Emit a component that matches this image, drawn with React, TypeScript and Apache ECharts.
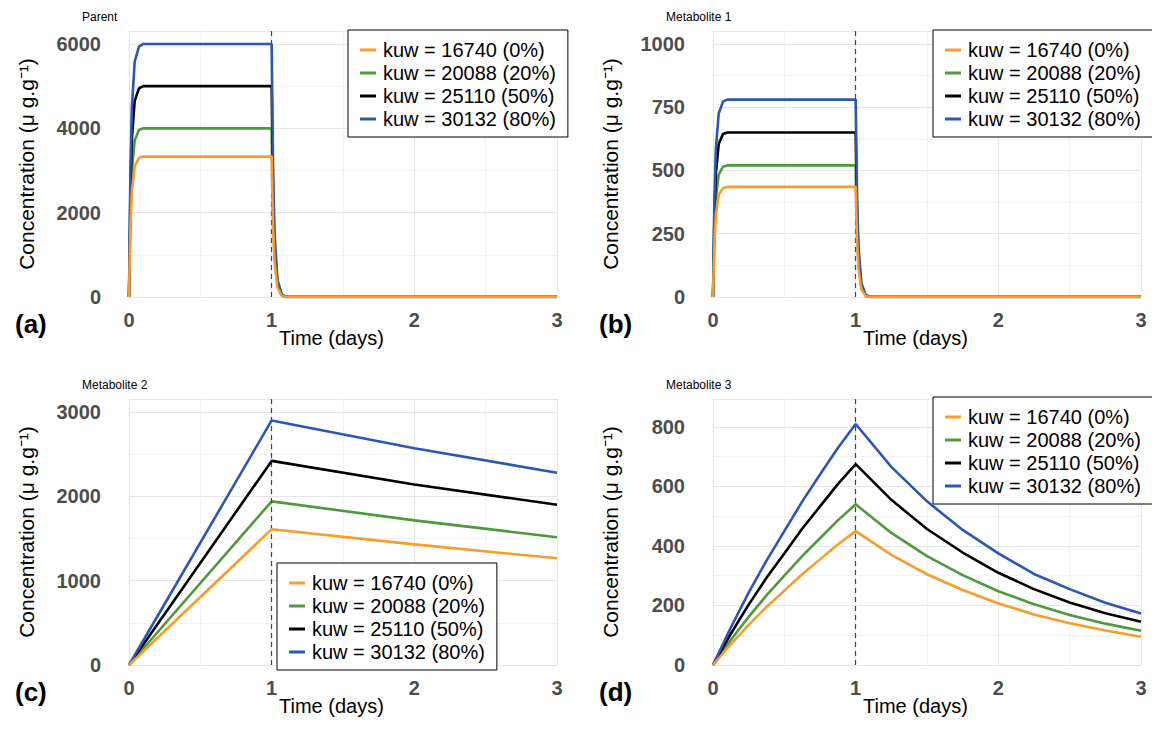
import React, { useEffect, useRef } from 'react';
import * as echarts from 'echarts';

const names = ['kuw = 16740 (0%)', 'kuw = 20088 (20%)', 'kuw = 25110 (50%)', 'kuw = 30132 (80%)'];
const colors = ['#F89C2A', '#4E9A3A', '#000000', '#2A56B8'];

// time points (days)
const tFast = [0, 0.01, 0.02, 0.04, 0.07, 0.1, 1, 1.01, 1.02, 1.04, 1.07, 1.1, 3];
const tMet2 = [0, 1, 2, 3];
const tMet3 = [0, 0.125, 0.25, 0.375, 0.5, 0.625, 0.75, 0.875, 1, 1.25, 1.5, 1.75, 2, 2.25, 2.5, 2.75, 3];

const parent = [
  [0, 1670, 2500, 3100, 3300, 3330, 3330, 1670, 830, 230, 30, 0, 0],
  [0, 2000, 3000, 3720, 3960, 4000, 4000, 2000, 1000, 280, 40, 0, 0],
  [0, 2500, 3750, 4650, 4950, 5000, 5000, 2500, 1250, 350, 50, 0, 0],
  [0, 3000, 4500, 5580, 5940, 6000, 6000, 3000, 1500, 420, 60, 0, 0],
];
const met1 = [
  [0, 218, 326, 405, 430, 435, 435, 218, 109, 30, 4, 0, 0],
  [0, 260, 390, 484, 515, 520, 520, 260, 130, 36, 5, 0, 0],
  [0, 325, 488, 605, 644, 650, 650, 325, 163, 46, 7, 0, 0],
  [0, 390, 585, 725, 772, 780, 780, 390, 195, 55, 8, 0, 0],
];
const met2 = [
  [0, 1610, 1430, 1265],
  [0, 1940, 1715, 1515],
  [0, 2420, 2140, 1900],
  [0, 2900, 2570, 2280],
];
const met3 = [
  [0, 70, 135, 195, 250, 305, 355, 405, 450, 370, 305, 252, 207, 170, 140, 116, 95],
  [0, 84, 162, 234, 300, 366, 426, 486, 540, 444, 366, 302, 248, 204, 168, 139, 115],
  [0, 105, 203, 293, 375, 458, 533, 608, 675, 555, 457, 378, 310, 255, 210, 174, 145],
  [0, 126, 243, 351, 450, 549, 640, 729, 810, 666, 550, 454, 375, 306, 255, 209, 173],
];

const panels = [
  { title: 'Parent', tag: '(a)', t: tFast, v: parent, left: 121, top: 23, max: 6308, interval: 2000, legend: { left: 340, top: 22 } },
  { title: 'Metabolite 1', tag: '(b)', t: tFast, v: met1, left: 705, top: 23, max: 1051, interval: 250, legend: { left: 925, top: 22 } },
  { title: 'Metabolite 2', tag: '(c)', t: tMet2, v: met2, left: 121, top: 391, max: 3154, interval: 1000, legend: { left: 269, top: 555 } },
  { title: 'Metabolite 3', tag: '(d)', t: tMet3, v: met3, left: 705, top: 391, max: 894, interval: 200, legend: { left: 925, top: 389 } },
];

const W = 428;
const H = 266;
const grey = '#e6e6e6';
const font = 'Liberation Sans, Arial, sans-serif';

const App = () => {
  const ref = useRef<HTMLDivElement>(null);

  useEffect(() => {
    const chart = echarts.init(ref.current, null, { renderer: 'svg' });
    const series: any[] = [];
    const graphic: any[] = [];
    panels.forEach((p, i) => {
      p.v.forEach((vals, k) => {
        series.push({
          type: 'line',
          name: names[k],
          xAxisIndex: i,
          yAxisIndex: i,
          data: p.t.map((t, j) => [t, vals[j]]),
          showSymbol: false,
          lineStyle: { color: colors[k], width: 2.6 },
          itemStyle: { color: colors[k] },
          z: k === 0 ? 8 : 3 + k,
          markLine: k === 0 ? {
            symbol: 'none', silent: true, label: { show: false },
            lineStyle: { color: '#444', type: [5, 4], width: 1.2 },
            data: [{ xAxis: 1 }],
          } : undefined,
        });
      });
      graphic.push(
        { type: 'text', left: p.left - 47, top: p.top - 20, style: { text: p.title, font: `12px ${font}`, fill: '#000' } },
        { type: 'text', left: p.left - 114, top: p.top + H + 14, style: { text: p.tag, font: `bold 26px ${font}`, fill: '#000' } },
        { type: 'text', left: p.left + 150, top: p.top + H + 31, style: { text: 'Time (days)', font: `20px ${font}`, fill: '#000' } },
      );
    });

    chart.setOption({
      animation: false,
      grid: panels.map((p) => ({ left: p.left, top: p.top, width: W, height: H })),
      xAxis: panels.map((p, i) => ({
        type: 'value', gridIndex: i, min: 0, max: 3, interval: 1,
        axisLine: { show: false }, axisTick: { show: false },
        axisLabel: { color: '#4d4d4d', fontSize: 20, fontWeight: 'bold', fontFamily: font, margin: 13 },
        splitLine: { lineStyle: { color: grey, width: 1.2 } },
        minorTick: { show: false, splitNumber: 2 },
        minorSplitLine: { show: true, lineStyle: { color: '#f2f2f2', width: 1 } },
      })),
      yAxis: panels.map((p, i) => ({
        type: 'value', gridIndex: i, min: 0, max: p.max, interval: p.interval,
        axisLine: { show: false }, axisTick: { show: false },
        axisLabel: { color: '#4d4d4d', fontSize: 20, fontWeight: 'bold', fontFamily: font, margin: 28, showMaxLabel: false, formatter: (v: number) => String(v) },
        splitLine: { lineStyle: { color: grey, width: 1.2 } },
        minorTick: { show: false, splitNumber: 2 },
        minorSplitLine: { show: true, lineStyle: { color: '#f2f2f2', width: 1 } },
        name: 'Concentration (μ g.g⁻¹)', nameLocation: 'middle', nameGap: 92,
        nameTextStyle: { fontSize: 21, color: '#000', fontFamily: font },
      })),
      legend: panels.map((p) => ({
        left: p.legend.left, top: p.legend.top, orient: 'vertical',
        data: names, icon: 'rect', itemWidth: 16, itemHeight: 3, itemGap: 3,
        borderColor: '#000', borderWidth: 1, backgroundColor: '#fff',
        padding: [10, 12, 8, 12], selectedMode: false,
        textStyle: { fontSize: 20, fontFamily: font, color: '#000', padding: [0, 0, 0, 2] },
      })),
      graphic,
      series,
    });
    return () => chart.dispose();
  }, []);

  return <div ref={ref} style={{ width: 1152, height: 730 }} />;
};

export default App;
